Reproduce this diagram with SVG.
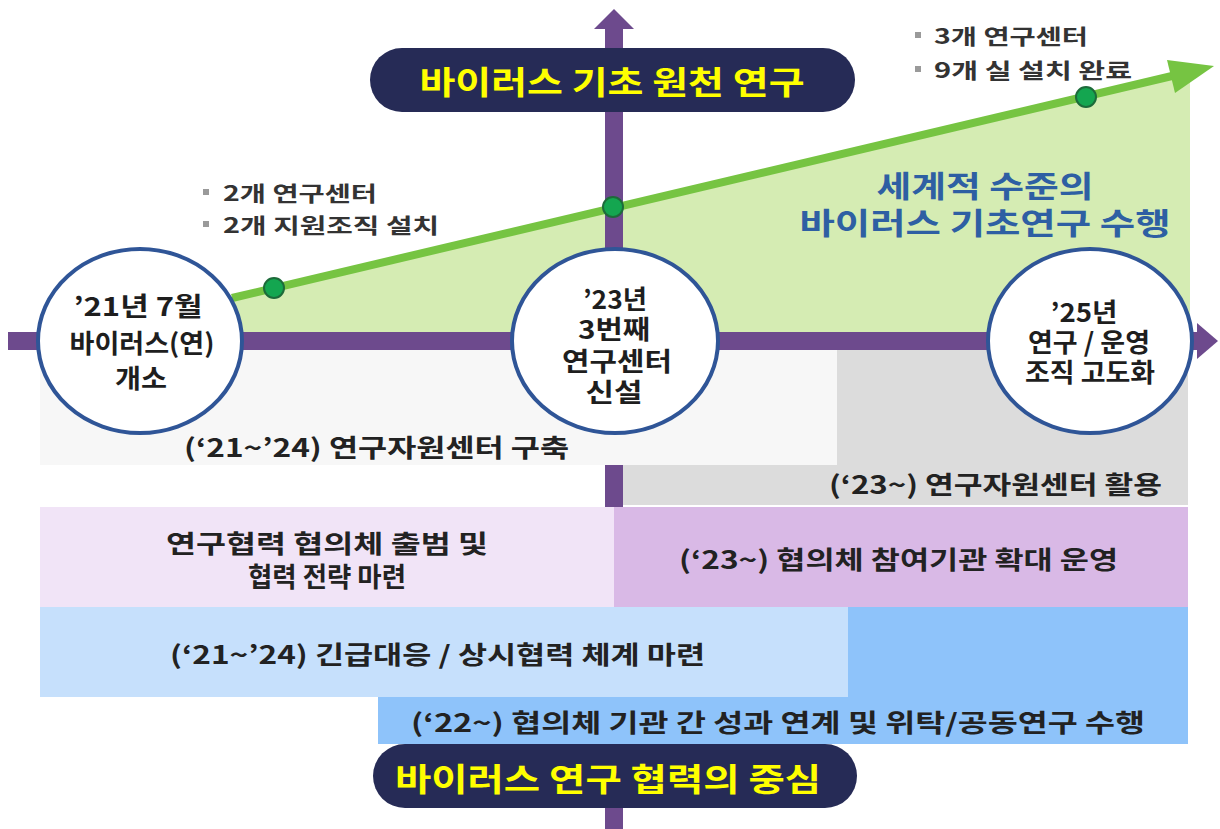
<svg xmlns="http://www.w3.org/2000/svg" width="1220" height="829" viewBox="0 0 1220 829">
<style>
text{font-family:"Noto Sans CJK KR","Noto Sans",sans-serif;font-weight:700;dominant-baseline:central;}
.t{fill:#222;font-size:25px;}
.c{fill:#1e1e1e;font-size:26px;text-anchor:middle;}
.b{fill:#333;font-size:21px;}
.pill{fill:#262b56;}
.pt{fill:#ffff00;font-size:32px;text-anchor:middle;}
.axis{fill:#6d4a8d;}
.circ{fill:#fff;stroke:#2f5597;stroke-width:4;}
.dot{fill:#14a650;stroke:#1d6b3a;stroke-width:2;}
.sq{fill:#9a9a9a;}
.blue{fill:#2e5fa3;font-size:30px;text-anchor:middle;}
</style>
<rect width="1220" height="829" fill="#ffffff"/>

<g id="growth-area">
<polygon points="200,306 1190,71 1190,341 200,341" fill="#d5ecb3"/>
</g>

<g id="axes">
<rect class="axis" x="605" y="28" width="18" height="801"/>
<polygon class="axis" points="594,29 614,9 634,29"/>
<rect class="axis" x="8" y="332" width="1190" height="18"/>
<polygon class="axis" points="1197,323 1218,341 1197,359"/>
</g>

<g id="resource-center">
<rect x="40" y="350" width="797" height="115" fill="#f7f7f7"/>
<rect x="837" y="350" width="351" height="115" fill="#dcdcdc"/>
<rect x="623" y="465" width="565" height="40" fill="#dcdcdc"/>
<text class="t" x="184" y="446" textLength="385" lengthAdjust="spacingAndGlyphs">(‘21~’24)  연구자원센터 구축</text>
<text class="t" x="829" y="483" textLength="333" lengthAdjust="spacingAndGlyphs">(‘23~) 연구자원센터 활용</text>
</g>

<g id="consortium">
<rect x="40" y="507" width="574" height="100" fill="#f1e4f7"/>
<rect x="614" y="507" width="574" height="100" fill="#d9b9e6"/>
<text class="t" x="166" y="542" textLength="322" lengthAdjust="spacingAndGlyphs">연구협력 협의체 출범 및</text>
<text class="t" x="248" y="575" style="font-size:27px" textLength="158" lengthAdjust="spacingAndGlyphs">협력 전략 마련</text>
<text class="t" x="679" y="558" textLength="439" lengthAdjust="spacingAndGlyphs">(‘23~) 협의체 참여기관 확대 운영</text>
</g>

<g id="cooperation">
<rect x="40" y="607" width="808" height="90" fill="#c6e0fc"/>
<rect x="848" y="607" width="340" height="90" fill="#8ec3fa"/>
<rect x="378" y="697" width="810" height="47" fill="#8ec3fa"/>
<text class="t" x="170" y="653" textLength="535" lengthAdjust="spacingAndGlyphs">(‘21~’24) 긴급대응 / 상시협력 체계 마련</text>
<text class="t" x="411" y="721" textLength="734" lengthAdjust="spacingAndGlyphs">(‘22~) 협의체 기관 간 성과 연계 및 위탁/공동연구 수행</text>
</g>

<g id="pill-top">
<rect class="pill" x="370" y="48" width="485" height="64" rx="32"/>
<text class="pt" x="612" y="80" textLength="385" lengthAdjust="spacingAndGlyphs">바이러스 기초 원천 연구</text>
</g>

<g id="pill-bottom">
<rect class="pill" x="373" y="744" width="484" height="64" rx="32"/>
<text class="pt" x="608" y="777" textLength="426" lengthAdjust="spacingAndGlyphs">바이러스 연구 협력의 중심</text>
</g>

<g id="connectors">
<line x1="232" y1="298" x2="1172" y2="76" stroke="#76c442" stroke-width="8"/>
<polygon points="1214,66 1175,93 1167,60" fill="#76c442"/>
<circle class="dot" cx="274" cy="288" r="10"/>
<circle class="dot" cx="613" cy="207" r="10"/>
<circle class="dot" cx="1086" cy="97" r="10"/>
</g>

<g id="note-2">
<rect class="sq" x="203" y="189" width="6" height="6"/>
<text class="b" x="223" y="192" textLength="154" lengthAdjust="spacingAndGlyphs">2개 연구센터</text>
<rect class="sq" x="203" y="221" width="6" height="6"/>
<text class="b" x="223" y="224" textLength="216" lengthAdjust="spacingAndGlyphs">2개 지원조직 설치</text>
</g>

<g id="note-3">
<rect class="sq" x="915" y="32" width="6" height="6"/>
<text class="b" x="934" y="35" textLength="154" lengthAdjust="spacingAndGlyphs">3개 연구센터</text>
<rect class="sq" x="915" y="66" width="6" height="6"/>
<text class="b" x="934" y="69" textLength="198" lengthAdjust="spacingAndGlyphs">9개 실 설치 완료</text>
</g>

<g id="goal">
<text class="blue" x="985" y="184" textLength="217" lengthAdjust="spacingAndGlyphs">세계적 수준의</text>
<text class="blue" x="985" y="221" textLength="371" lengthAdjust="spacingAndGlyphs">바이러스 기초연구 수행</text>
</g>

<g id="node-2021">
<ellipse class="circ" cx="140" cy="341" rx="102" ry="92"/>
<text class="c" x="138" y="304" textLength="129" lengthAdjust="spacingAndGlyphs">’21년 7월</text>
<text class="c" x="142" y="341" textLength="145" lengthAdjust="spacingAndGlyphs">바이러스(연)</text>
<text class="c" x="141" y="376" textLength="52" lengthAdjust="spacingAndGlyphs">개소</text>
</g>

<g id="node-2023">
<ellipse class="circ" cx="615" cy="341" rx="103" ry="92"/>
<text class="c" x="615" y="297" textLength="64" lengthAdjust="spacingAndGlyphs">’23년</text>
<text class="c" x="614" y="327" textLength="72" lengthAdjust="spacingAndGlyphs">3번째</text>
<text class="c" x="617" y="359" textLength="110" lengthAdjust="spacingAndGlyphs">연구센터</text>
<text class="c" x="614" y="390" textLength="57" lengthAdjust="spacingAndGlyphs">신설</text>
</g>

<g id="node-2025">
<ellipse class="circ" cx="1090" cy="341" rx="102" ry="92"/>
<text class="c" x="1084" y="310" textLength="67" lengthAdjust="spacingAndGlyphs">’25년</text>
<text class="c" x="1089" y="340" textLength="122" lengthAdjust="spacingAndGlyphs">연구 / 운영</text>
<text class="c" x="1090" y="370" textLength="130" lengthAdjust="spacingAndGlyphs">조직 고도화</text>
</g>
</svg>
